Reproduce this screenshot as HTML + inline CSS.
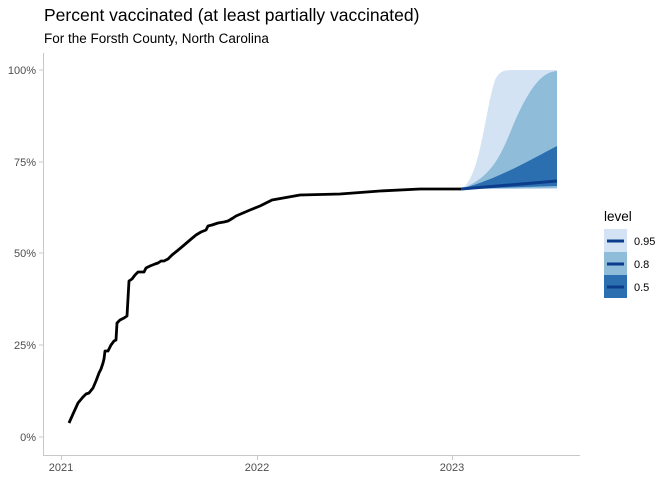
<!DOCTYPE html>
<html><head><meta charset="utf-8"><style>
html,body{margin:0;padding:0;background:#fff;}
svg{display:block;font-family:"Liberation Sans",Arial,sans-serif;}
</style></head><body>
<svg width="672" height="480" viewBox="0 0 672 480">
<text x="44" y="21" font-size="17.5" fill="#000">Percent vaccinated (at least partially vaccinated)</text>
<text x="44" y="43" font-size="13.5" fill="#000">For the Forsth County, North Carolina</text>
<!-- axes -->
<line x1="43.5" y1="53" x2="43.5" y2="455.5" stroke="#c8c8c8" stroke-width="1"/>
<line x1="43" y1="455.5" x2="580" y2="455.5" stroke="#c8c8c8" stroke-width="1"/>
<g stroke="#c8c8c8" stroke-width="1">
<line x1="39" y1="70" x2="43" y2="70"/><line x1="39" y1="162" x2="43" y2="162"/>
<line x1="39" y1="253" x2="43" y2="253"/><line x1="39" y1="345" x2="43" y2="345"/>
<line x1="39" y1="437" x2="43" y2="437"/>
<line x1="61.5" y1="456" x2="61.5" y2="460"/><line x1="257.5" y1="456" x2="257.5" y2="460"/><line x1="452.5" y1="456" x2="452.5" y2="460"/>
</g>
<g font-size="11" fill="#4d4d4d" text-anchor="end">
<text x="36" y="74">100%</text><text x="36" y="166">75%</text><text x="36" y="257">50%</text><text x="36" y="349">25%</text><text x="36" y="441">0%</text>
</g>
<g font-size="11" fill="#4d4d4d" text-anchor="middle">
<text x="61" y="471">2021</text><text x="257" y="471">2022</text><text x="452" y="471">2023</text>
</g>
<!-- bands -->
<path d="M461,189 C480,180 485,110 495,80 C500,70 505,70 515,70 L557,70 L557,189 Z" fill="#d4e3f3"/>
<path d="M461,189 C500,175 505,140 520,110 C535,80 545,72 557,71 L557,188 Z" fill="#8fbcd9"/>
<path d="M461,189 C500,178 530,160 557,146 L557,186 Z" fill="#2c6fb0"/>
<path d="M461,189 L557,181" stroke="#0b3d8c" stroke-width="3" fill="none"/>
<!-- history -->
<polyline fill="none" stroke="#000" stroke-width="2.8" stroke-linejoin="round" points="69,423 73,414 78,403 83,397 86,394 89,393 93,388 96,381 99,373 101,369 103,363 104,359 105,351 108,351 111,345 114,341 116,340 117,323 120,320 124,318 127,316 129,281 132,279 135,275 138,272 144,272 146,268 150,266 155,264 158,263 161,261 164,261 168,259 172,255 177,251 183,246 190,240 196,235 201,232 206,230 208,226 212,225 218,223 224,222 228,221 233,218 236,216 243,213 250,210 260,206 272,200 300,195 340,194 380,191 420,189 461,189"/>
<!-- legend -->
<text x="604" y="221" font-size="13.5" fill="#000">level</text>
<rect x="604" y="229" width="23" height="23" fill="#d4e3f3"/>
<rect x="604" y="252" width="23" height="23" fill="#8fbcd9"/>
<rect x="604" y="275" width="23" height="23" fill="#2c6fb0"/>
<g stroke="#0b3d8c" stroke-width="3">
<line x1="607" y1="241" x2="624" y2="241"/><line x1="607" y1="264" x2="624" y2="264"/><line x1="607" y1="287" x2="624" y2="287"/>
</g>
<g font-size="11" fill="#000">
<text x="634" y="245">0.95</text><text x="634" y="268">0.8</text><text x="634" y="291">0.5</text>
</g>
</svg>
</body></html>
